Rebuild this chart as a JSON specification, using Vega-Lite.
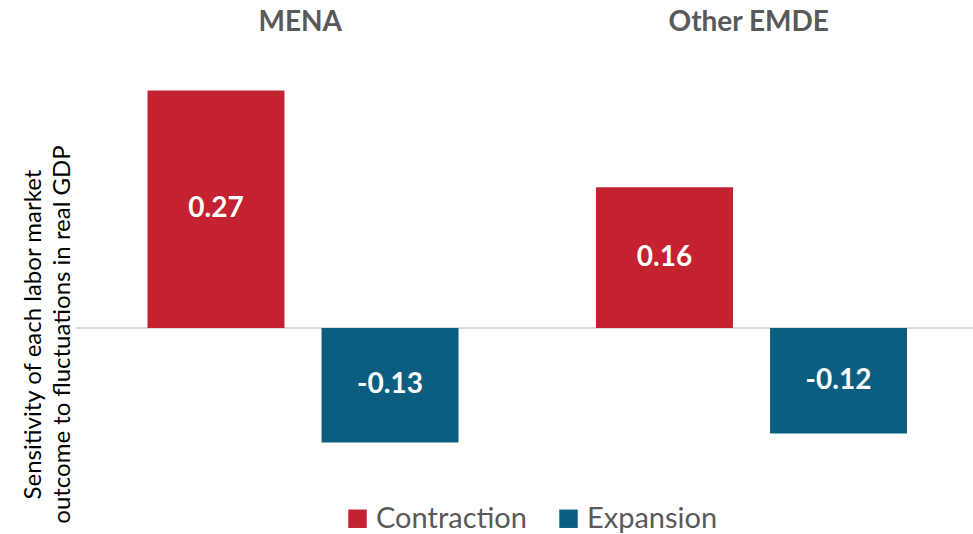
{
  "$schema": "https://vega.github.io/schema/vega-lite/v6.json",
  "width": 897,
  "height": 396,
  "autosize": {"type": "none"},
  "padding": {"left": 76, "top": 64, "right": 0, "bottom": 74},
  "background": "white",
  "config": {"view": {"stroke": null}, "font": "Lato"},
  "data": {"values": [
    {"region": "MENA", "phase": "Contraction", "value": 0.27},
    {"region": "MENA", "phase": "Expansion", "value": -0.13},
    {"region": "Other EMDE", "phase": "Contraction", "value": 0.16},
    {"region": "Other EMDE", "phase": "Expansion", "value": -0.12}
  ]},
  "layer": [
    {
      "data": {"values": [{}]},
      "mark": {"type": "rule", "color": "#D9D9D9", "strokeWidth": 2},
      "encoding": {"y": {"datum": 0, "type": "quantitative", "title": ["Sensitivity of each labor market", "outcome to fluctuations in real GDP"]}}
    },
    {
      "mark": {"type": "bar"},
      "encoding": {
        "x": {"field": "region", "type": "nominal", "scale": {"paddingInner": 0, "paddingOuter": 0},
          "axis": {"orient": "top", "title": null, "domain": false, "ticks": false, "labelAngle": 0, "labelFont": "Lato", "labelFontSize": 28, "labelFontWeight": "bold", "labelColor": "#595959", "labelPadding": 28}},
        "xOffset": {"field": "phase", "type": "nominal", "scale": {"paddingInner": 0.213, "paddingOuter": 0.395, "align": 0.52}},
        "y": {"field": "value", "type": "quantitative", "title": ["Sensitivity of each labor market", "outcome to fluctuations in real GDP"], "scale": {"domain": [-0.15, 0.3], "nice": false, "zero": true},
          "axis": {"title": ["Sensitivity of each labor market", "outcome to fluctuations in real GDP"], "labels": false, "ticks": false, "domain": false, "grid": false, "titleFont": "Lato", "titleFontSize": 24, "titleFontWeight": "normal", "titleColor": "#000000", "titleX": -43, "titleY": 270, "titleAngle": -90, "titleAlign": "center", "titleBaseline": "middle", "titleLineHeight": 29}},
        "color": {"field": "phase", "type": "nominal", "scale": {"domain": ["Contraction", "Expansion"], "range": ["#C42231", "#0C5E80"]},
          "legend": {"orient": "none", "legendX": 267, "legendY": 440, "direction": "horizontal", "title": null, "symbolType": "square", "symbolSize": 340, "symbolStrokeWidth": 0, "symbolOpacity": 1, "labelFont": "Lato", "labelFontSize": 29, "labelColor": "#595959", "labelOffset": 4, "columnPadding": 27, "labelLimit": 300}}
      }
    },
    {
      "transform": [{"calculate": "datum.value / 2", "as": "mid"}],
      "mark": {"type": "text", "color": "white", "font": "Lato", "fontSize": 28, "fontWeight": "bold", "baseline": "middle", "align": "center"},
      "encoding": {
        "x": {"field": "region", "type": "nominal"},
        "xOffset": {"field": "phase", "type": "nominal"},
        "y": {"field": "mid", "type": "quantitative", "title": ["Sensitivity of each labor market", "outcome to fluctuations in real GDP"]},
        "text": {"field": "value", "type": "nominal"}
      }
    }
  ]
}
